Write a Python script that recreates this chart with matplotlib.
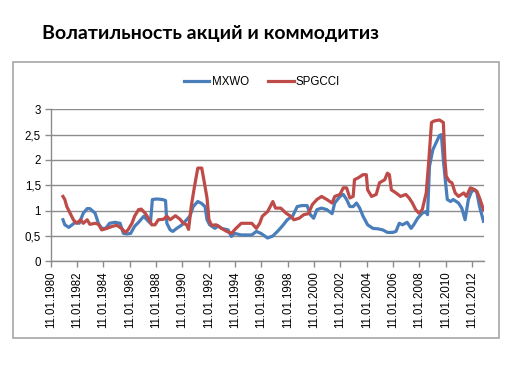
import matplotlib
matplotlib.use("Agg")
import matplotlib.pyplot as plt
from matplotlib.patches import Rectangle

title = "Волатильность акций и коммодитиз"
series_names = ["MXWO", "SPGCCI"]

mxwo_t = [1980.96, 1981.1, 1981.4, 1981.65, 1981.9, 1982.2, 1982.5, 1982.8, 1983.0, 1983.4,
          1983.65, 1983.9, 1984.2, 1984.5, 1984.9, 1985.3, 1985.55, 1985.8, 1986.1, 1986.4,
          1986.7, 1987.1, 1987.3, 1987.6, 1987.75, 1988.1, 1988.5, 1988.75, 1988.85, 1989.1,
          1989.3, 1989.6, 1990.0, 1990.35, 1990.6, 1990.85, 1991.2, 1991.5, 1991.75, 1991.9,
          1992.1, 1992.5, 1992.75, 1993.0, 1993.5, 1993.75, 1994.0, 1994.5, 1995.3, 1995.65,
          1996.0, 1996.5, 1996.9, 1997.25, 1997.6, 1998.0, 1998.4, 1998.75, 1999.1, 1999.5,
          1999.75, 2000.0, 2000.25, 2000.6, 2001.0, 2001.4, 2001.6, 2002.0, 2002.25, 2002.5,
          2002.75, 2003.0, 2003.25, 2003.5, 2003.75, 2004.1, 2004.5, 2004.9, 2005.25, 2005.6,
          2006.0, 2006.25, 2006.5, 2006.75, 2007.1, 2007.4, 2007.6, 2007.9, 2008.25, 2008.5,
          2008.65, 2008.8, 2009.05, 2009.3, 2009.55, 2009.7, 2009.85, 2010.0, 2010.15, 2010.4,
          2010.6, 2011.0, 2011.25, 2011.5, 2011.75, 2012.0, 2012.25, 2012.4, 2012.6, 2012.9]
mxwo_v = [0.82, 0.72, 0.67, 0.72, 0.77, 0.75, 0.95, 1.04, 1.04, 0.95,
          0.75, 0.65, 0.65, 0.75, 0.77, 0.75, 0.55, 0.54, 0.55, 0.69,
          0.77, 0.89, 0.83, 0.75, 1.22, 1.23, 1.22, 1.20, 0.75, 0.62,
          0.59, 0.65, 0.72, 0.82, 0.89, 1.08, 1.18, 1.14, 1.08, 0.82,
          0.72, 0.65, 0.70, 0.65, 0.62, 0.49, 0.55, 0.52, 0.52, 0.59,
          0.55, 0.46, 0.50, 0.59, 0.69, 0.82, 0.89, 1.08, 1.10, 1.10,
          0.92, 0.85, 1.02, 1.05, 1.02, 0.94, 1.15, 1.28, 1.32, 1.22,
          1.08, 1.08, 1.15, 1.05, 0.89, 0.72, 0.65, 0.64, 0.62, 0.57,
          0.57, 0.59, 0.75, 0.72, 0.77, 0.65, 0.72, 0.85, 0.95, 0.98,
          0.92, 1.88, 2.20, 2.34, 2.48, 2.50, 2.00, 1.60, 1.22, 1.18,
          1.22, 1.15, 1.05, 0.82, 1.22, 1.38, 1.41, 1.35, 1.08, 0.79]

spg_t = [1980.96, 1981.1, 1981.25, 1981.5, 1981.75, 1982.0, 1982.3, 1982.5, 1982.8, 1983.0,
         1983.4, 1983.65, 1983.9, 1984.3, 1984.7, 1985.05, 1985.4, 1985.7, 1985.9, 1986.2,
         1986.4, 1986.7, 1986.9, 1987.2, 1987.45, 1987.7, 1987.95, 1988.2, 1988.6, 1988.85,
         1989.1, 1989.5, 1989.85, 1990.1, 1990.35, 1990.5, 1990.7, 1990.95, 1991.2, 1991.5,
         1991.7, 1991.9, 1992.05, 1992.25, 1992.6, 1993.0, 1993.4, 1993.75, 1994.1, 1994.5,
         1995.3, 1995.65, 1995.9, 1996.1, 1996.5, 1996.9, 1997.1, 1997.5, 1997.9, 1998.25,
         1998.5, 1998.9, 1999.25, 1999.6, 1999.9, 2000.25, 2000.6, 2001.0, 2001.4, 2001.6,
         2002.0, 2002.25, 2002.5, 2002.75, 2003.0, 2003.1, 2003.4, 2003.75, 2004.0, 2004.1,
         2004.4, 2004.75, 2005.0, 2005.4, 2005.6, 2005.75, 2005.9, 2006.25, 2006.6, 2007.0,
         2007.25, 2007.5, 2007.75, 2008.0, 2008.25, 2008.55, 2008.75, 2008.95, 2009.15, 2009.55,
         2009.85, 2009.97, 2010.07, 2010.3, 2010.5, 2010.75, 2011.0, 2011.4, 2011.6, 2011.9,
         2012.1, 2012.4, 2012.6, 2012.9]
spg_v = [1.28, 1.22, 1.08, 0.95, 0.82, 0.75, 0.82, 0.75, 0.82, 0.73,
         0.75, 0.73, 0.62, 0.65, 0.69, 0.71, 0.65, 0.57, 0.62, 0.75,
         0.89, 1.02, 1.03, 0.95, 0.85, 0.72, 0.72, 0.82, 0.83, 0.89,
         0.82, 0.90, 0.83, 0.75, 0.72, 0.63, 1.08, 1.48, 1.84, 1.84,
         1.55, 1.25, 0.82, 0.71, 0.72, 0.65, 0.59, 0.55, 0.65, 0.75,
         0.75, 0.65, 0.75, 0.89, 0.98, 1.18, 1.05, 1.05, 0.95, 0.89,
         0.82, 0.85, 0.92, 0.94, 1.12, 1.22, 1.28, 1.22, 1.15, 1.28,
         1.32, 1.45, 1.45, 1.25, 1.28, 1.61, 1.65, 1.71, 1.71, 1.41,
         1.28, 1.32, 1.55, 1.61, 1.74, 1.71, 1.41, 1.35, 1.28, 1.32,
         1.25, 1.15, 1.02, 0.95, 1.02, 1.35, 2.00, 2.74, 2.77, 2.79,
         2.74, 2.00, 1.68, 1.58, 1.55, 1.35, 1.28, 1.35, 1.28, 1.45,
         1.43, 1.38, 1.25, 1.02]

tick_years = list(range(1980, 2013, 2))
tick_labels = ["11.01.%d" % y for y in tick_years]
y_ticks = [0, 0.5, 1, 1.5, 2, 2.5, 3]
y_labels = ["0", "0,5", "1", "1,5", "2", "2,5", "3"]

plt.rcParams["font.family"] = ["Liberation Sans", "DejaVu Sans"]

fig = plt.figure(figsize=(5.3, 3.65), dpi=100)
fig.patch.set_facecolor("white")

# outer chart frame
fig.patches.append(Rectangle((13 / 530, 1 - 338 / 365), 486 / 530, 276 / 365,
                             transform=fig.transFigure, fill=False,
                             edgecolor="#a6a6a6", linewidth=1.2))

ax = fig.add_axes([50.7 / 530, 1 - 261.3 / 365, (483.5 - 50.7) / 530, (261.3 - 109.3) / 365])

blue = "#4a7ebb"
red = "#be4b48"
ax.plot(mxwo_t, mxwo_v, color=blue, lw=2.3, label=series_names[0], solid_joinstyle="round")
ax.plot(spg_t, spg_v, color=red, lw=2.3, label=series_names[1], solid_joinstyle="round")

ax.set_xlim(1980 + 10 / 365, 2012.9)
ax.set_ylim(0, 3)
ax.set_xticks([y + 10 / 365 for y in tick_years])
ax.set_xticklabels(tick_labels, rotation=90, fontsize=8.3)
ax.set_yticks(y_ticks)
ax.set_yticklabels(y_labels, fontsize=8.3)
ax.grid(axis="y", color="#8c8c8c", lw=1)
ax.set_axisbelow(True)
for s in ["top", "right"]:
    ax.spines[s].set_visible(False)
for s in ["left", "bottom"]:
    ax.spines[s].set_color("#8c8c8c")
    ax.spines[s].set_linewidth(1)
ax.tick_params(axis="both", color="#8c8c8c", length=4, width=1, pad=3, labelcolor="black")

fig.legend(loc="center", bbox_to_anchor=(262 / 530, 1 - 82 / 365), ncol=2, frameon=False,
           fontsize=8.3, handlelength=2.2, columnspacing=1.7, handletextpad=0.2)

fig.text(42 / 530, 1 - 33 / 365, title, fontsize=14, fontweight="bold",
         family=["Lato", "DejaVu Sans"], va="center", ha="left")

fig.savefig("out.png", dpi=100)
